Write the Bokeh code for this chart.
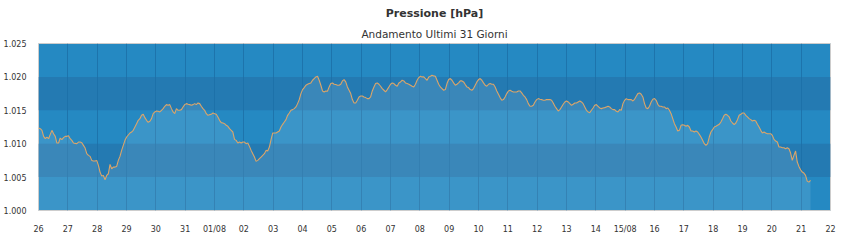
import pandas as pd
from bokeh.plotting import figure
from bokeh.models import FixedTicker, Title, ColumnDataSource
from bokeh.embed import file_html
from bokeh.resources import INLINE

# ---- data (hPa), sampled every ~81.5 minutes from 26/07 00:07 ----
start_time = "2024-07-26 00:07"
step_minutes = 81.49

seg1 = [1012.35, 1012.25, 1012.0, 1011.1, 1010.75, 1011.0, 1010.75, 1011.4, 1012.0, 1011.5,
        1011.1, 1010.1, 1010.1, 1010.85, 1010.6, 1010.9, 1011.1, 1011.1, 1011.2, 1010.75,
        1010.5, 1010.1, 1010.05, 1010.0, 1010.25, 1010.25, 1010.15, 1009.75, 1009.35, 1008.5,
        1008.25, 1008.1, 1007.5, 1007.4, 1007.4, 1007.5, 1006.75, 1005.75, 1005.15, 1005.25,
        1004.6, 1005.25, 1005.5, 1006.9, 1006.25, 1006.5, 1006.5, 1006.6, 1007.5, 1008.1,
        1009.0, 1009.75, 1010.5, 1011.0, 1011.3, 1011.6, 1011.75, 1012.0, 1012.5, 1013.0,
        1013.5, 1013.75, 1014.25, 1014.4, 1013.9, 1013.5, 1013.2, 1013.35, 1013.75, 1014.5,
        1014.75, 1014.9, 1014.85, 1014.75, 1015.0, 1015.25, 1015.6, 1015.85, 1015.75, 1015.85,
        1015.25, 1014.75, 1014.5, 1015.25, 1015.0, 1015.0, 1015.1, 1015.5, 1015.85, 1016.0,
        1015.9, 1015.85, 1015.75, 1015.85, 1016.0, 1015.85, 1016.1, 1016.0, 1015.6, 1015.25,
        1015.0, 1014.5, 1014.25, 1014.35, 1014.4, 1014.6, 1014.5, 1014.4, 1014.0, 1013.5,
        1013.15, 1013.1, 1013.0, 1012.75, 1012.6, 1012.25, 1012.0, 1011.75]
seg2 = [1010.65, 1010.5, 1010.1, 1010.25, 1010.1, 1010.25, 1010.25, 1010.0, 1010.1, 1009.6,
        1009.0, 1008.5, 1008.0, 1007.35, 1007.5, 1007.75, 1008.0, 1008.25, 1008.5, 1009.0,
        1008.9, 1009.5, 1010.6, 1011.6, 1011.6, 1011.6, 1011.75, 1011.9, 1012.5, 1012.9,
        1013.25, 1013.6, 1014.25, 1014.6, 1015.0, 1015.1, 1015.25, 1015.5, 1016.0, 1016.6,
        1017.5, 1018.1, 1018.4, 1018.75, 1018.9, 1019.0, 1019.1, 1019.5, 1019.75, 1020.0,
        1020.1, 1019.5, 1018.75, 1017.9, 1017.75, 1017.9, 1017.85, 1018.5, 1019.0, 1019.1,
        1018.9, 1018.85, 1018.75, 1018.75, 1018.9, 1019.4, 1019.6, 1019.25, 1018.5, 1018.0,
        1017.5, 1016.6, 1016.1, 1016.1, 1016.5, 1017.0, 1017.15, 1017.15, 1017.0, 1016.9,
        1016.75, 1016.75, 1017.0, 1017.9, 1018.5, 1019.0, 1019.1, 1018.9, 1018.6, 1018.25,
        1018.0, 1017.75, 1018.1, 1018.5, 1018.9, 1019.1, 1019.0, 1018.75, 1018.6, 1019.1,
        1019.25, 1019.5, 1019.4, 1019.1, 1019.0, 1018.9, 1018.75, 1018.6, 1018.5, 1018.9,
        1019.5, 1019.9, 1020.1, 1020.0, 1020.0, 1019.75, 1019.5]
seg3 = [1020.0, 1020.1, 1020.25, 1020.15, 1020.1, 1019.5, 1018.9, 1018.5, 1018.25, 1018.0,
        1018.1, 1019.0, 1019.6, 1019.75, 1019.5, 1019.1, 1018.75, 1018.9, 1019.1, 1019.4,
        1019.4, 1019.25, 1018.85, 1018.5, 1018.4, 1018.1, 1018.0, 1018.25, 1018.75, 1019.25,
        1019.6, 1019.75, 1019.5, 1019.1, 1018.75, 1018.6, 1018.9, 1019.0, 1018.9, 1018.9,
        1018.5, 1017.9, 1017.4, 1016.9, 1016.5, 1016.6, 1017.0, 1017.5, 1017.9, 1018.0,
        1017.85, 1017.75, 1017.75, 1017.75, 1017.9, 1017.9, 1017.6, 1017.25, 1017.0, 1016.6,
        1016.0, 1015.6, 1015.6, 1015.75, 1016.25, 1016.6, 1016.75, 1016.65, 1016.6, 1016.5,
        1016.5, 1016.6, 1016.6, 1016.6, 1016.5, 1016.1, 1015.6, 1015.25, 1014.9, 1015.1,
        1015.5, 1015.9, 1016.25, 1016.4, 1016.25, 1016.0, 1015.75, 1015.9, 1016.1, 1016.1,
        1016.25, 1016.4, 1016.25, 1016.0, 1015.5, 1015.0, 1014.75, 1014.65, 1015.0, 1015.35,
        1015.75, 1015.85, 1015.6, 1015.35, 1015.25, 1015.35, 1015.4, 1015.5, 1015.6, 1015.5,
        1015.25, 1015.1, 1015.1, 1014.85, 1014.75, 1015.1, 1015.0]
seg4 = [1016.0, 1016.5, 1016.75, 1016.6, 1016.6, 1016.6, 1016.4, 1016.65, 1017.1, 1017.5,
        1017.6, 1017.4, 1017.0, 1016.0, 1015.35, 1015.25, 1015.6, 1016.25, 1016.65, 1016.75,
        1016.5, 1015.9, 1015.6, 1015.6, 1015.5, 1015.5, 1015.25, 1015.35, 1015.0, 1014.5,
        1013.75, 1013.0, 1012.5, 1011.9, 1012.0, 1012.75, 1012.85, 1012.75, 1012.6, 1012.75,
        1012.5, 1011.9, 1011.9, 1011.75, 1011.9, 1011.75, 1011.4, 1011.0, 1010.5, 1010.0,
        1009.75, 1010.0, 1011.0, 1011.75, 1012.1, 1012.5, 1012.6, 1012.75, 1012.9, 1013.25,
        1013.75, 1014.25, 1014.4, 1014.25, 1014.0, 1013.4, 1013.1, 1012.85, 1013.1, 1013.6,
        1014.25, 1014.4, 1014.6, 1014.6, 1014.25, 1014.0, 1013.75, 1013.6, 1013.4, 1013.5,
        1013.4, 1012.9, 1012.5, 1012.0, 1011.6, 1011.75, 1011.6, 1011.5, 1011.5, 1011.5,
        1011.25, 1010.65, 1010.4, 1010.25, 1009.5, 1009.5, 1009.4, 1009.4, 1009.25, 1009.4,
        1009.25, 1008.6, 1007.5, 1008.25, 1008.9, 1007.25, 1006.6, 1006.1, 1005.75, 1005.6,
        1005.25, 1004.4, 1004.25, 1004.5]

day_ticks = pd.date_range("2024-07-26", "2024-08-22", freq="D")
day_labels = ["26", "27", "28", "29", "30", "31", "01/08", "02", "03", "04", "05", "06", "07",
              "08", "09", "10", "11", "12", "13", "14", "15/08", "16", "17", "18", "19", "20",
              "21", "22"]
y_ticks = [1000, 1005, 1010, 1015, 1020, 1025]
y_labels = ["1.000", "1.005", "1.010", "1.015", "1.020", "1.025"]

title_text = "Pressione [hPa]"
subtitle_text = "Andamento Ultimi 31 Giorni"

# ---- build ----
values = seg1 + seg2 + seg3 + seg4
times = pd.date_range(start_time, periods=len(values), freq=pd.Timedelta(minutes=step_minutes))
src = ColumnDataSource(dict(t=times, v=values, base=[1000] * len(values)))

x_start = pd.Timestamp("2024-07-26 00:00")
x_end = pd.Timestamp("2024-08-22 00:00")

p = figure(width=850, height=240, x_axis_type="datetime", output_backend="svg",
           toolbar_location=None, title=None,
           x_range=(x_start, x_end), y_range=(1000, 1025),
           min_border_left=36, min_border_right=20, min_border_top=43, min_border_bottom=30)

p.add_layout(Title(text=subtitle_text, align="center", text_font="DejaVu Sans",
                   text_font_size="10.5px", text_font_style="normal", text_color="#333333",
                   standoff=8), "above")
p.add_layout(Title(text=title_text, align="center", text_font="DejaVu Sans",
                   text_font_size="11px", text_font_style="bold", text_color="#333333",
                   standoff=4), "above")

p.background_fill_color = "#2589C2"
p.border_fill_color = "white"
p.outline_line_color = "#cccccc"

tick_ms = [t.value / 1e6 for t in day_ticks]
p.xaxis.ticker = FixedTicker(ticks=tick_ms)
p.xaxis.major_label_overrides = {ms: lab for ms, lab in zip(tick_ms, day_labels)}
p.yaxis.ticker = FixedTicker(ticks=y_ticks)
p.yaxis.major_label_overrides = {v: lab for v, lab in zip(y_ticks, y_labels)}

for ax in (p.xaxis, p.yaxis):
    ax.axis_line_color = None
    ax.major_tick_line_color = None
    ax.minor_tick_line_color = None
    ax.major_label_text_font = "DejaVu Sans"
    ax.major_label_text_font_size = "8px"
    ax.major_label_text_color = "#333333"
p.xaxis.major_label_standoff = 8
p.yaxis.major_label_standoff = 6

p.xgrid.ticker = FixedTicker(ticks=tick_ms)
p.xgrid.grid_line_color = "#1C6FA6"
p.xgrid.grid_line_alpha = 0.8
p.xgrid.level = "underlay"

p.ygrid.grid_line_color = None
p.ygrid.band_fill_color = "#247AB2"
p.ygrid.band_fill_alpha = 1.0
p.ygrid.level = "image"

p.varea(x="t", y1="base", y2="v", source=src, fill_color="white", fill_alpha=0.10)
p.line(x="t", y="v", source=src, line_color="#DCA569", line_width=1.1)

open("out.html", "w").write(file_html(p, INLINE))
